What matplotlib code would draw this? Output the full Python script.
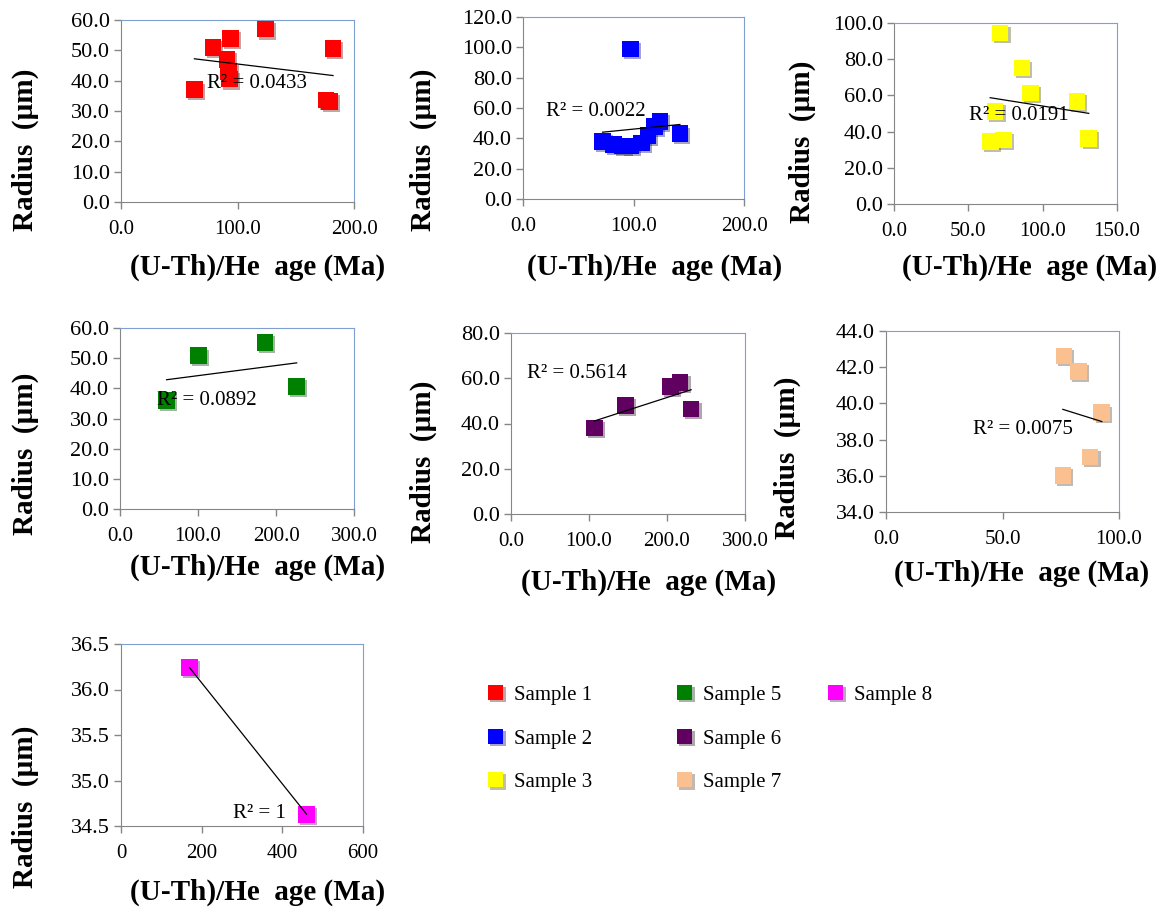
import numpy as np
import matplotlib
matplotlib.use('Agg')
import matplotlib.pyplot as plt
import matplotlib.patheffects as pe
from matplotlib.lines import Line2D
from matplotlib.ticker import FormatStrFormatter, MultipleLocator

# ages (Ma) and radii (um), one pair per sample
s1_age = [63, 79, 94, 124, 182, 176, 179, 91, 92, 93]
s1_rad = [37.0, 51.0, 54.0, 57.0, 50.6, 33.6, 33.2, 47.0, 43.0, 40.5]
s2_age = [72, 82, 90, 97, 107, 113, 119, 124, 142, 97]
s2_rad = [38.0, 36.0, 35.0, 35.0, 37.0, 42.0, 48.0, 51.0, 43.0, 99.0]
s3_age = [71.4, 86.0, 91.6, 123.0, 131.0, 68.0, 64.7, 73.7]
s3_rad = [94.5, 75.1, 61.3, 56.6, 36.3, 51.1, 34.5, 35.4]
s5_age = [59.8, 100.4, 185.9, 226.5]
s5_rad = [35.9, 50.8, 55.2, 40.7]
s6_age = [106.7, 146.4, 204.8, 216.8, 230.9]
s6_rad = [38.0, 47.9, 56.4, 58.2, 46.4]
s7_age = [76.4, 82.6, 92.6, 87.6, 75.9]
s7_rad = [42.62, 41.75, 39.48, 37.04, 36.03]
s8_age = [170, 460]
s8_rad = [36.24, 34.63]

names = ['Sample 1', 'Sample 2', 'Sample 3', 'Sample 5', 'Sample 6', 'Sample 7', 'Sample 8']
colors = ['#FF0000', '#0000FF', '#FFFF00', '#008000', '#600060', '#FAC090', '#FF00FF']
r2_text = ['R² = 0.0433', 'R² = 0.0022', 'R² = 0.0191', 'R² = 0.0892',
           'R² = 0.5614', 'R² = 0.0075', 'R² = 1']
ages = [s1_age, s2_age, s3_age, s5_age, s6_age, s7_age, s8_age]
rads = [s1_rad, s2_rad, s3_rad, s5_rad, s6_rad, s7_rad, s8_rad]

# axis limits / tick steps per panel
xlims = [(0, 200, 100), (0, 200, 100), (0, 150, 50), (0, 300, 100), (0, 300, 100), (0, 100, 50), (0, 600, 200)]
ylims = [(0, 60, 10), (0, 120, 20), (0, 100, 20), (0, 60, 10), (0, 80, 20), (34, 44, 2), (34.5, 36.5, 0.5)]
xfmt = ['%.1f'] * 6 + ['%d']

W, H = 1173, 909
# plot box in pixels: left, right, top, bottom
boxes = [(121, 354, 20, 202), (523, 744, 17, 199), (894, 1117, 23, 204),
         (120, 354, 328, 509), (511, 745, 333, 514), (886, 1119, 331, 512),
         (121, 363, 644, 826)]
xlab_pos = [(258, 267), (655, 267), (1030, 267), (258, 567), (649, 582), (1022, 573), (258, 892)]
ylab_pos = [(25, 150), (423, 150), (802, 142), (25, 454), (423, 462), (787, 458), (25, 807)]
r2_pos = [(257, 83), (596, 112), (1019, 115), (207, 400), (577, 373), (1023, 429), (259, 813)]

plt.rcParams['font.family'] = ['Liberation Serif', 'DejaVu Serif']

fig = plt.figure(figsize=(W / 100, H / 100), dpi=100)

shadow = [pe.SimplePatchShadow(offset=(1.5, -1.5), alpha=0.35), pe.Normal()]

def fx(x):
	return x / W

def fy(y):
	return 1 - y / H

for i in range(7):
	l, r, t, b = boxes[i]
	ax = fig.add_axes([fx(l), fy(b), (r - l) / W, (b - t) / H])
	x = np.array(ages[i], dtype=float)
	y = np.array(rads[i], dtype=float)
	ax.plot(x, y, 's', color=colors[i], markersize=12, markeredgewidth=0,
		path_effects=shadow, zorder=3, clip_on=False)
	# linear trendline
	w = np.polyfit(x, y, 1)
	xp = np.array([x.min(), x.max()])
	ax.plot(xp, np.polyval(w, xp), '-', color='black', linewidth=0.9, zorder=4)

	x0, x1, xs = xlims[i]
	y0, y1, ys = ylims[i]
	ax.set_xlim(x0, x1)
	ax.set_ylim(y0, y1)
	ax.xaxis.set_major_locator(MultipleLocator(xs))
	ax.yaxis.set_major_locator(MultipleLocator(ys))
	ax.xaxis.set_major_formatter(FormatStrFormatter(xfmt[i]))
	ax.yaxis.set_major_formatter(FormatStrFormatter('%.1f'))
	ax.tick_params(direction='out', length=5, width=1, color='#868686',
		labelcolor='black', pad=3)
	ax.tick_params(axis='x', labelsize=15, pad=8)
	ax.tick_params(axis='y', labelsize=16)
	for s in ['left', 'bottom']:
		ax.spines[s].set_color('#868686')
	for s in ['top', 'right']:
		ax.spines[s].set_color('#7f9fd0')

	fig.text(fx(xlab_pos[i][0]), fy(xlab_pos[i][1]), '(U-Th)/He  age (Ma)',
		fontsize=21, fontweight='bold', ha='center', va='center')
	fig.text(fx(ylab_pos[i][0]), fy(ylab_pos[i][1]), 'Radius  (µm)',
		fontsize=21, fontweight='bold', ha='center', va='center', rotation=90)
	fig.text(fx(r2_pos[i][0]), fy(r2_pos[i][1]), r2_text[i],
		fontsize=15, ha='center', va='center', zorder=5)

# legend, three columns placed like the original
cols = [[0, 1, 2], [3, 4, 5], [6]]
col_x = [475, 664, 815]
for c, idx in enumerate(cols):
	handles = [Line2D([], [], linestyle='none', marker='s', markersize=11,
		markeredgewidth=0, color=colors[k], path_effects=shadow) for k in idx]
	fig.legend(handles, [names[k] for k in idx], loc='upper left',
		bbox_to_anchor=(fx(col_x[c]), fy(675)), frameon=False, fontsize=15,
		handlelength=1.0, handletextpad=0.35, labelspacing=1.15, borderpad=0)

fig.savefig('out.png', dpi=100)
